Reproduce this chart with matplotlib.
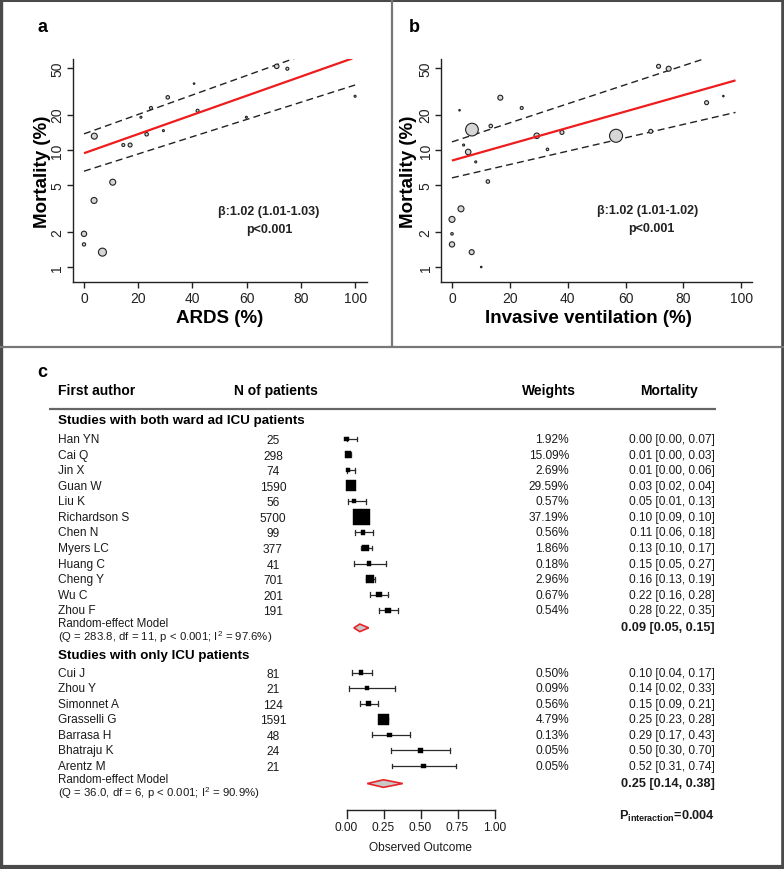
import numpy as np
import matplotlib
matplotlib.use("Agg")
import matplotlib.pyplot as plt
from matplotlib.lines import Line2D
from matplotlib.patches import Polygon, Rectangle

plt.rcParams['font.family'] = ['Liberation Sans', 'DejaVu Sans']
plt.rcParams['mathtext.fontset'] = 'custom'
plt.rcParams['mathtext.rm'] = 'Liberation Sans'
plt.rcParams['mathtext.bf'] = 'Liberation Sans:bold'
plt.rcParams['mathtext.it'] = 'Liberation Sans:italic'

# ---------------- data: panel a (ARDS) ----------------
a_x = [0, 0, 3.7, 6.8, 3.8, 10.6, 14.5, 17, 21, 23.1, 24.7, 29.3, 30.9, 40.6, 41.9, 59.9, 71.1, 75, 100]
a_y = [1.92, 1.56, 3.7, 1.34, 13.1, 5.3, 11, 11, 19, 13.6, 22.8, 14.6, 28.1, 36.8, 21.6, 19, 51.7, 49.3, 28.7]
a_wt = [5.3, 3.3, 6, 8, 6, 6, 3, 4, 2, 3.5, 3, 2, 3.5, 1.5, 3, 2, 4.5, 3, 2]
a_fit_x = [0, 99]
a_fit_y = [9.37, 60.4]
a_band_x = [0, 100]
a_hi = [13.7, 92.7]
a_lo = [6.58, 35.8]
a_beta = "β:1.02 (1.01-1.03)"
a_p = "p<0.001"

# ---------------- data: panel b (invasive ventilation) ----------------
b_x = [0, 0, 0, 3.1, 2.6, 4, 5.6, 6.9, 6.8, 8.2, 10.1, 12.4, 13.4, 16.7, 24.1, 29.3, 33, 38, 56.7, 68.7, 71.4, 74.9, 88, 93.8]
b_y = [2.55, 1.92, 1.56, 3.14, 21.8, 11, 9.6, 14.9, 1.34, 7.9, 1.0, 5.37, 16, 27.9, 22.8, 13.2, 10.1, 14.1, 13.2, 14.4, 51.7, 49.3, 25.3, 28.8]
b_wt = [6, 2.5, 5.3, 6, 1.5, 2, 5.5, 12.7, 5, 2, 1.5, 3.5, 3.5, 5, 3, 5.5, 2.5, 4, 13, 4, 4, 5, 4, 1.5]
b_fit_x = [0, 98]
b_fit_y = [8.11, 39.2]
b_band_x = [0, 98]
b_hi = [11.7, 73.4]
b_lo = [5.77, 20.9]
b_beta = "β:1.02 (1.01-1.02)"
b_p = "p<0.001"

y_ticks = [1, 2, 5, 10, 20, 50]
x_ticks = [0, 20, 40, 60, 80, 100]

# ---------------- data: panel c (forest) ----------------
g1_names = ["Han YN", "Cai Q", "Jin X", "Guan W", "Liu K", "Richardson S", "Chen N",
            "Myers LC", "Huang C", "Cheng Y", "Wu C", "Zhou F"]
g1_n = [25, 298, 74, 1590, 56, 5700, 99, 377, 41, 701, 201, 191]
g1_w = ["1.92%", "15.09%", "2.69%", "29.59%", "0.57%", "37.19%", "0.56%", "1.86%",
        "0.18%", "2.96%", "0.67%", "0.54%"]
g1_est = [0.00, 0.01, 0.01, 0.03, 0.05, 0.10, 0.11, 0.13, 0.15, 0.16, 0.22, 0.28]
g1_lo = [0.00, 0.00, 0.00, 0.02, 0.01, 0.09, 0.06, 0.10, 0.05, 0.13, 0.16, 0.22]
g1_hi = [0.07, 0.03, 0.06, 0.04, 0.13, 0.10, 0.18, 0.17, 0.27, 0.19, 0.28, 0.35]
g1_re = (0.09, 0.05, 0.15)
g1_het = r"(Q = 283.8, df = 11, p < 0.001; I$^{2}$ = 97.6%)"

g2_names = ["Cui J", "Zhou Y", "Simonnet A", "Grasselli G", "Barrasa H", "Bhatraju K", "Arentz M"]
g2_n = [81, 21, 124, 1591, 48, 24, 21]
g2_w = ["0.50%", "0.09%", "0.56%", "4.79%", "0.13%", "0.05%", "0.05%"]
g2_est = [0.10, 0.14, 0.15, 0.25, 0.29, 0.50, 0.52]
g2_lo = [0.04, 0.02, 0.09, 0.23, 0.17, 0.30, 0.31]
g2_hi = [0.17, 0.33, 0.21, 0.28, 0.43, 0.70, 0.74]
g2_re = (0.25, 0.14, 0.38)
g2_het = r"(Q = 36.0, df = 6, p < 0.001; I$^{2}$ = 90.9%)"

forest_ticks = [0.00, 0.25, 0.50, 0.75, 1.00]
p_interaction = "0.004"

# ---------------- figure ----------------
W, H = 784, 870
fig = plt.figure(figsize=(W / 100, H / 100), dpi=100)

def fx(px):
    return px / W

def fy(py):
    return 1 - py / H


def scatter_panel(pos, xs, ys, wts, fx_, fy_, bx, bhi, blo, xlim, xlabel, xlab_x,
                  ylab_x, beta, ptxt, bpos, ppos, letter, lpos):
    ax = fig.add_axes(pos)
    ax.set_yscale('log')
    ax.set_xlim(*xlim)
    ax.set_ylim(0.745, 59.7)
    sizes = [(w * 0.72) ** 2 for w in wts]
    ax.scatter(xs, ys, s=sizes, facecolor='#d6d6d6', edgecolor='#222222', linewidth=0.8, zorder=3)
    ax.plot(fx_, fy_, color='#ee1c1c', lw=1.6, zorder=4, solid_capstyle='butt')
    ax.plot(bx, bhi, color='#222222', lw=1.0, dashes=(5, 3), zorder=2)
    ax.plot(bx, blo, color='#222222', lw=1.0, dashes=(5, 3), zorder=2)
    ax.set_yticks(y_ticks)
    ax.set_yticklabels([str(t) for t in y_ticks], rotation=90, va='center')
    ax.yaxis.set_minor_locator(matplotlib.ticker.NullLocator())
    ax.set_xticks(x_ticks)
    ax.set_xticklabels([str(t) for t in x_ticks])
    for s in ['top', 'right']:
        ax.spines[s].set_visible(False)
    for s in ['left', 'bottom']:
        ax.spines[s].set_linewidth(1.0)
        ax.spines[s].set_color('#222222')
    ax.tick_params(direction='out', length=4.2, width=1.0, colors='#222222',
                   labelsize=10, pad=2, labelcolor='#222222')
    ax.set_xlabel(xlabel, fontsize=13.5, fontweight='bold')
    ax.xaxis.set_label_coords(xlab_x, -0.157)
    ax.xaxis.label.set_va('center')
    ax.set_ylabel("Mortality (%)", fontsize=13.5, fontweight='bold')
    ax.yaxis.set_label_coords(ylab_x, 0.5)
    ax.yaxis.label.set_va('center')
    fig.text(fx(bpos[0]), fy(bpos[1]), beta, fontsize=9, fontweight='bold',
             ha='center', va='center', color='#222222')
    fig.text(fx(ppos[0]), fy(ppos[1]), ptxt, fontsize=9, fontweight='bold',
             ha='center', va='center', color='#222222')
    fig.text(fx(lpos[0]), fy(lpos[1]), letter, fontsize=13, fontweight='bold',
             ha='center', va='center')
    ax.patch.set_alpha(0)
    return ax

# panel a: axes left 73, right 367, top 60, bottom 283 (px)
scatter_panel([fx(73), fy(283), (367 - 73) / W, (283 - 60) / H],
              a_x, a_y, a_wt, a_fit_x, a_fit_y, a_band_x, a_hi, a_lo,
              (-4.06, 104.4), "ARDS (%)", 0.5, -0.105, a_beta, a_p,
              (269, 212), (269, 230), "a", (42, 28))

# panel b: axes left 441.3, right 752
scatter_panel([fx(441.3), fy(283), (752 - 441.3) / W, (283 - 60) / H],
              b_x, b_y, b_wt, b_fit_x, b_fit_y, b_band_x, b_hi, b_lo,
              (-3.70, 103.7), "Invasive ventilation (%)", 0.474, -0.104, b_beta, b_p,
              (648, 211), (651, 229), "b", (414, 28))

# ---------------- panel c: forest plot ----------------
# axes spanning panel c; x in outcome units (0 -> 346.5 px, 1 -> 494.5 px), y in px from top
ppu = 148.0
x0px = 346.5
axc = fig.add_axes([0, 0, 1, 1], zorder=-1)
axc.set_xlim(-x0px / ppu, (W - x0px) / ppu)
axc.set_ylim(H, 0)
axc.axis('off')

def xpx(px):
    return (px - x0px) / ppu

row0 = 440.0
rstep = 15.57

def rowy(r):
    return row0 + rstep * r

txt = dict(fontsize=8.6, color='#1a1a1a', va='center')
name_x = xpx(58)
n_x = xpx(273)
w_x = xpx(569)
m_x = xpx(715)

# headers
axc.text(xpx(42), 373, "c", fontsize=13, fontweight='bold', ha='center', va='center')
axc.text(name_x, 391, "First author", fontsize=10, fontweight='bold', va='center')
axc.text(xpx(276), 391, "N of patients", fontsize=10, fontweight='bold', ha='center', va='center')
axc.text(xpx(549), 391, "Weights", fontsize=10, fontweight='bold', ha='center', va='center')
axc.text(xpx(669), 391, "Mortality", fontsize=10, fontweight='bold', ha='center', va='center')
axc.plot([xpx(49), xpx(716)], [410, 410], color='#666666', lw=1.6, solid_capstyle='butt')


def draw_group(names, ns, ws, est, lo, hi, re, het, first_row, head_y, head_txt):
    axc.text(name_x, head_y, head_txt, fontsize=9.6, fontweight='bold', va='center')
    for i in range(len(names)):
        y = rowy(first_row + i)
        axc.text(name_x, y, names[i], ha='left', **txt)
        axc.text(n_x, y + 1, str(ns[i]), ha='center', **txt)
        axc.text(w_x, y, ws[i], ha='right', **txt)
        axc.text(m_x, y, f"{est[i]:.2f} [{lo[i]:.2f}, {hi[i]:.2f}]", ha='right', **txt)
        # CI whisker with caps
        axc.plot([lo[i], hi[i]], [y, y], color='#2a2a2a', lw=0.9, zorder=2)
        cap = 2.4
        for v in (lo[i], hi[i]):
            axc.plot([v, v], [y - cap, y + cap], color='#2a2a2a', lw=0.9, zorder=2)
        # square sized by study size
        side = max(4.3, 0.92 * ns[i] ** (1 / 3))
        half_x = side / 2 / ppu
        half_y = side / 2
        axc.add_patch(Rectangle((est[i] - half_x, y - half_y), 2 * half_x, 2 * half_y,
                                facecolor='black', edgecolor='black', lw=0.3, zorder=3))
    yre = rowy(first_row + len(names))
    axc.text(name_x, yre - 3, "Random-effect Model", ha='left', fontsize=8.3,
             color='#1a1a1a', va='center')
    axc.text(name_x, yre + 10.5, het, ha='left', fontsize=8.2, color='#1a1a1a', va='center')
    m, l, h = re
    axc.add_patch(Polygon([(l, yre + 2), (m, yre - 1.8), (h, yre + 2), (m, yre + 5.8)],
                          closed=True, facecolor='#c8c8c8', edgecolor='#e8242a', lw=1.2, zorder=3))
    axc.text(m_x, yre + 1, f"{m:.2f} [{l:.2f}, {h:.2f}]", ha='right', fontsize=9.2,
             fontweight='bold', va='center', color='#1a1a1a')


draw_group(g1_names, g1_n, g1_w, g1_est, g1_lo, g1_hi, g1_re, g1_het, 0, 421,
           "Studies with both ward ad ICU patients")
draw_group(g2_names, g2_n, g2_w, g2_est, g2_lo, g2_hi, g2_re, g2_het, 15, 656,
           "Studies with only ICU patients")

# forest x axis
axy = 811
axc.plot([forest_ticks[0], forest_ticks[-1]], [axy, axy], color='#222222', lw=1.0)
for t in forest_ticks:
    axc.plot([t, t], [axy, axy + 8], color='#222222', lw=1.0)
    axc.text(t, 828, f"{t:.2f}", ha='center', va='center', fontsize=8.6, color='#1a1a1a')
axc.text(np.mean([forest_ticks[0], forest_ticks[-1]]), 848, "Observed Outcome",
         ha='center', va='center', fontsize=8.6, color='#1a1a1a')
axc.text(m_x, 816, r"$\mathbf{P_{interaction}}$" + "=" + p_interaction, ha='right', va='center',
         fontsize=9.2, fontweight='bold', color='#1a1a1a')

# ---------------- frame / dividers ----------------
bc = '#4a4a4a'
def fline(x1, y1, x2, y2, lw, color=bc):
    fig.add_artist(Line2D([fx(x1), fx(x2)], [fy(y1), fy(y2)], color=color, lw=lw,
                          solid_capstyle='butt'))

fline(1, 0, 1, H, 2.4)
fline(W - 1.5, 0, W - 1.5, H, 2.6)
fline(0, 1, W, 1, 2.2)
fline(0, H - 2, W, H - 2, 3.0)
fline(392, 0, 392, 348, 1.6, '#777777')
fline(0, 348, W, 348, 1.6, '#777777')

fig.savefig("out.png", dpi=100)
